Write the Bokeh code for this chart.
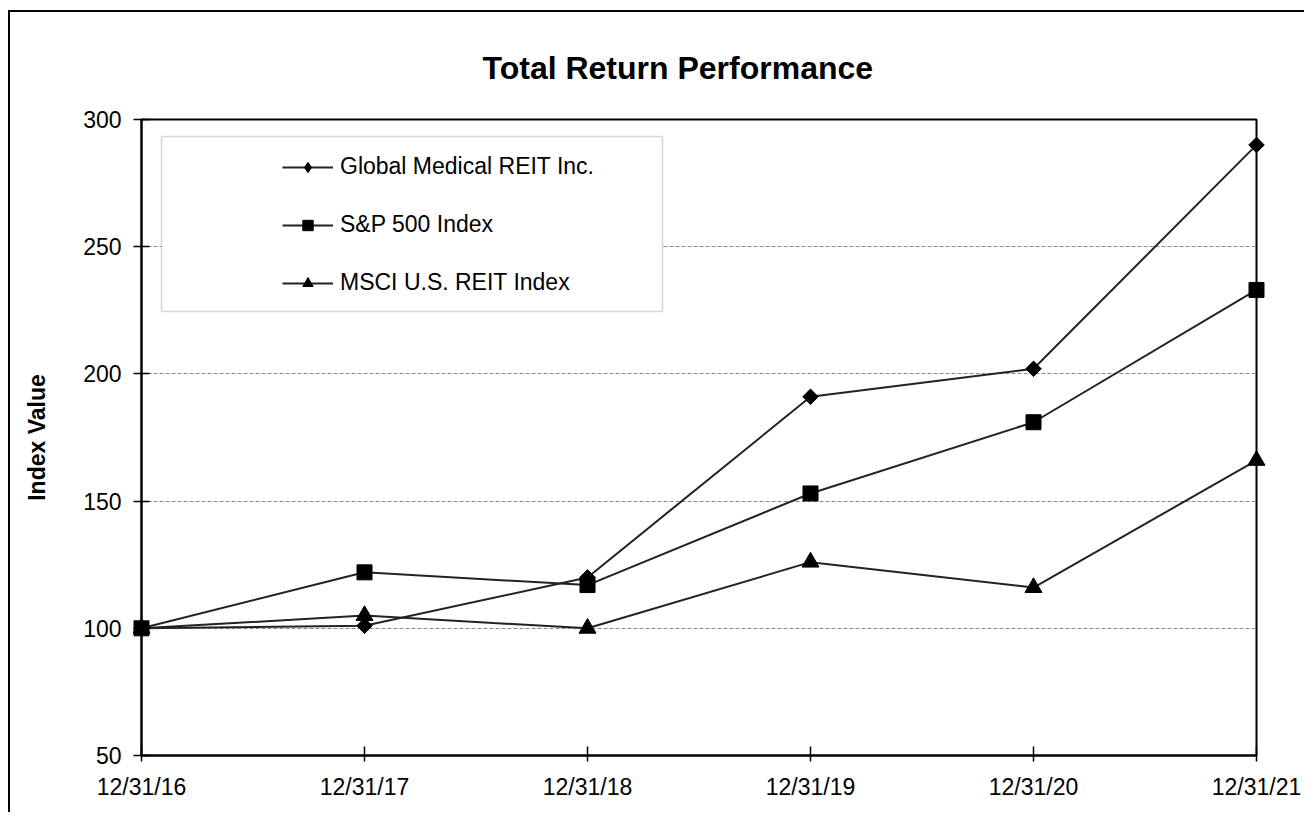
import math
from bokeh.plotting import figure
from bokeh.models import Range1d, FixedTicker, Legend, LegendItem, BoxAnnotation
from bokeh.layouts import column
from bokeh.embed import file_html
from bokeh.resources import INLINE

# ---- data ----
dates = ["12/31/16", "12/31/17", "12/31/18", "12/31/19", "12/31/20", "12/31/21"]
gmre = [100, 101, 120, 191, 202, 290]
sp500 = [100, 122, 117, 153, 181, 233]
msci = [100, 105, 100, 126, 116, 166]
y_ticks = [50, 100, 150, 200, 250, 300]
series_names = ["Global Medical REIT Inc.", "S&P 500 Index", "MSCI U.S. REIT Index"]
title_text = "Total Return Performance"
y_title = "Index Value"

x_idx = list(range(len(dates)))
FONT = "Liberation Sans"

p = figure(width=1296, height=802, output_backend="svg", toolbar_location=None,
           x_range=Range1d(0, len(dates) - 1), y_range=Range1d(50, 300),
           min_border_left=131, min_border_right=50, min_border_top=107, min_border_bottom=59,
           background_fill_color="white", border_fill_color="white")

p.title.text = title_text
p.title.text_font = FONT
p.title.text_font_size = "32px"
p.title.text_font_style = "bold"
p.title.text_color = "black"
p.title.align = "left"
p.title.offset = 341
p.title.standoff = 68

p.outline_line_color = "black"
p.outline_line_width = 2

# axes
p.xaxis.ticker = FixedTicker(ticks=x_idx)
p.xaxis.major_label_overrides = {i: d for i, d in zip(x_idx, dates)}
p.yaxis.ticker = FixedTicker(ticks=y_ticks)
for ax in (p.xaxis[0], p.yaxis[0]):
    ax.axis_line_color = "black"
    ax.axis_line_width = 2
    ax.major_tick_line_color = "black"
    ax.major_tick_line_width = 1.5
    ax.minor_tick_line_color = None
    ax.major_label_text_font = FONT
    ax.major_label_text_font_size = "23px"
    ax.major_label_text_color = "black"
p.xaxis.major_tick_in = 9
p.xaxis.major_tick_out = 6
p.xaxis.major_label_standoff = 12
p.yaxis.major_tick_in = 8
p.yaxis.major_tick_out = 8
p.yaxis.major_label_standoff = 12
p.yaxis.axis_label = y_title
p.yaxis.axis_label_text_font = FONT
p.yaxis.axis_label_text_font_size = "23px"
p.yaxis.axis_label_text_font_style = "bold"
p.yaxis.axis_label_text_color = "black"
p.yaxis.axis_label_standoff = 30

p.xgrid.visible = False
p.ygrid.ticker = FixedTicker(ticks=y_ticks)
p.ygrid.grid_line_color = "#8a8a8a"
p.ygrid.grid_line_width = 1
p.ygrid.grid_line_dash = "4 2"

LINE_COLOR = "#222222"
l1 = p.line(x_idx, gmre, line_color=LINE_COLOR, line_width=2)
l2 = p.line(x_idx, sp500, line_color=LINE_COLOR, line_width=2)
l3 = p.line(x_idx, msci, line_color=LINE_COLOR, line_width=2)
# diamond swatch for the legend (the legend ignores marker angle); it sits
# hidden underneath the rotated squares drawn on top
d1 = p.scatter(x_idx, gmre, marker="diamond", size=13,
               fill_color="black", line_color="black")
s1 = p.scatter(x_idx, gmre, marker="square", angle=math.pi / 4, size=11,
               fill_color="black", line_color="black", level="overlay")
s2 = p.scatter(x_idx, sp500, marker="square", size=15,
               fill_color="black", line_color="black", level="overlay")
s3 = p.scatter(x_idx, msci, marker="triangle", size=17,
               fill_color="black", line_color="black", level="overlay")

# legend frame
box = BoxAnnotation(left=20, right=521, top=619, bottom=444,
                    left_units="screen", right_units="screen",
                    top_units="screen", bottom_units="screen",
                    fill_color="white", fill_alpha=1.0,
                    line_color="#7a7a7a", line_width=1.5)
p.add_layout(box)

legend = Legend(items=[LegendItem(label=series_names[0], renderers=[l1, d1]),
                       LegendItem(label=series_names[1], renderers=[l2, s2]),
                       LegendItem(label=series_names[2], renderers=[l3, s3])],
                location=(121, 439), padding=20, spacing=31, margin=0,
                glyph_width=51, glyph_height=26, label_height=26, label_standoff=7,
                label_text_font=FONT, label_text_font_size="23px", label_text_color="black",
                border_line_alpha=0, background_fill_alpha=0)
p.add_layout(legend)

# outer chart border: a shadow strip on the left and top edges only
layout = column(p, styles={"margin-top": "12px", "margin-left": "10px",
                           "box-shadow": "-2px -2px 0px 0px black"})

open("out.html", "w").write(file_html(layout, INLINE))
